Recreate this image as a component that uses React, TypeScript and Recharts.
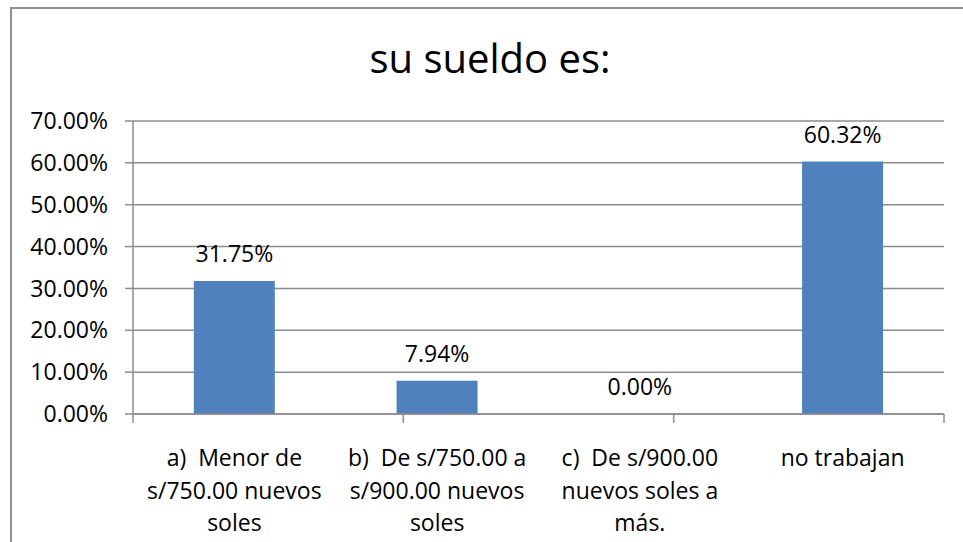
import React from "react";
import {
  ComposedChart,
  Bar,
  Line,
  XAxis,
  YAxis,
  CartesianGrid,
  LabelList,
} from "recharts";

// categorias (con saltos de línea como en el original)
const categories = [
  "a)  Menor de\ns/750.00 nuevos\nsoles",
  "b)  De s/750.00 a\ns/900.00 nuevos\nsoles",
  "c)  De s/900.00\nnuevos soles a\nmás.",
  "no trabajan",
];
const values = [0.3175, 0.0794, 0, 0.6032];
const yTicks = [0, 0.1, 0.2, 0.3, 0.4, 0.5, 0.6, 0.7];
const boundaryTicks = [0, 1, 2, 3, 4];

const data = categories.map((name, i) => ({ name, value: values[i] }));

const FONT = "'Open Sans', 'Liberation Sans', sans-serif";
const GRID = "#8c8c8c";

const pct = (v: any) => (Number(v) * 100).toFixed(2) + "%";

// etiqueta de categoría en varias líneas
function CatTick(props: any) {
  const { x, y, payload } = props;
  const lines = String(payload.value).split("\n");
  return (
    <text
      x={x}
      y={y}
      textAnchor="middle"
      fontFamily={FONT}
      fontSize={23}
      fill="#000"
      xmlSpace="preserve"
      style={{ whiteSpace: "pre" }}
    >
      {lines.map((l, i) => (
        <tspan key={i} x={x} dy={i === 0 ? 43 : 32.5}>
          {l}
        </tspan>
      ))}
    </text>
  );
}

// sin texto, solo la marquita
const NoLabel = () => <g />;

export default function App() {
  return (
    <div
      style={{
        position: "absolute",
        left: 0,
        top: 0,
        width: 963,
        height: 542,
        background: "#fff",
        overflow: "hidden",
      }}
    >
      {/* borde del área del gráfico */}
      <div
        style={{
          position: "absolute",
          left: 10,
          top: 7,
          width: 1000,
          height: 600,
          border: "2px solid #909090",
        }}
      />
      <svg
        width={963}
        height={542}
        style={{ position: "absolute", left: 0, top: 0 }}
      >
        <text
          x={490}
          y={73}
          textAnchor="middle"
          fontFamily={FONT}
          fontSize={40}
          fill="#000"
        >
          su sueldo es:
        </text>
      </svg>
      <div style={{ position: "absolute", left: 0, top: 0 }}>
        <ComposedChart
          width={963}
          height={542}
          data={data}
          margin={{ top: 121, right: 19, bottom: 126, left: 0 }}
          barCategoryGap="30%"
        >
          <CartesianGrid
            xAxisId="b_cat"
            yAxisId="y"
            horizontal={true}
            vertical={false}
            stroke={GRID}
            strokeWidth={1.5}
          />
          {/* eje auxiliar: marcas entre categorías */}
          <XAxis
            xAxisId="a_grid"
            type="number"
            domain={[0, 4]}
            ticks={boundaryTicks}
            tick={<NoLabel />}
            tickSize={9}
            height={1}
            axisLine={{ stroke: GRID, strokeWidth: 1.5 }}
            tickLine={{ stroke: GRID, strokeWidth: 1.5 }}
          />
          <XAxis
            xAxisId="b_cat"
            dataKey="name"
            type="category"
            height={1}
            axisLine={false}
            tickLine={false}
            interval={0}
            tick={<CatTick />}
          />
          <YAxis
            yAxisId="y"
            width={133}
            domain={[0, 0.7]}
            ticks={yTicks}
            tickFormatter={pct}
            tickSize={8}
            tickMargin={17}
            axisLine={{ stroke: GRID, strokeWidth: 1.5 }}
            tickLine={{ stroke: GRID, strokeWidth: 1.5 }}
            tick={{ fill: "#000", fontSize: 23, fontFamily: FONT }}
          />
          <Bar
            xAxisId="b_cat"
            yAxisId="y"
            dataKey="value"
            fill="#4F81BD"
            isAnimationActive={false}
          />
          {/* serie invisible sólo para las etiquetas (incluye el 0.00%) */}
          <Line
            xAxisId="b_cat"
            yAxisId="y"
            dataKey="value"
            stroke="none"
            dot={false}
            activeDot={false}
            isAnimationActive={false}
          >
            <LabelList
              dataKey="value"
              position="top"
              offset={19}
              formatter={pct}
              fill="#000"
              fontSize={23}
              fontFamily={FONT}
            />
          </Line>
        </ComposedChart>
      </div>
    </div>
  );
}
